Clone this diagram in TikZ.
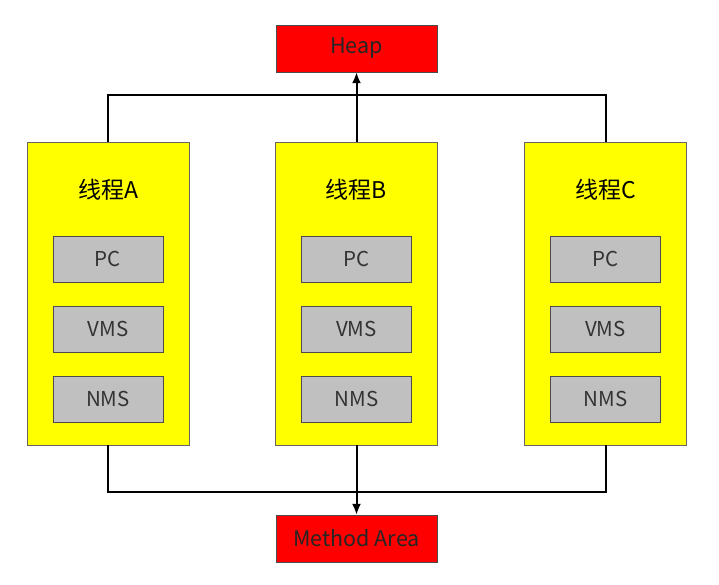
\documentclass[tikz,border=0pt]{standalone}
\usepackage{fontspec}
\setmainfont{Noto Sans CJK SC}
\usetikzlibrary{positioning,arrows.meta}
\definecolor{heapred}{RGB}{255,0,0}
\definecolor{threadyellow}{RGB}{255,255,0}
\definecolor{reggray}{RGB}{192,192,192}
\begin{document}
\begin{tikzpicture}[x=1pt,y=-1pt,
	membox/.style={draw=black!70,fill=heapred,minimum width=161pt,minimum height=47pt,text=black!85,font=\fontsize{21.5}{24}\selectfont},
	threadbox/.style={draw=black!60,fill=threadyellow,minimum width=162pt,minimum height=303pt},
	regbox/.style={draw=black!70,fill=reggray,minimum width=110pt,minimum height=46pt,text=black!80,font=\fontsize{20.5}{23}\selectfont},
	link/.style={line width=2pt}]

	\useasboundingbox (0,0) rectangle (719,585);

	% memory areas
	\node [membox] (heap) at (356.5,48.5) {Heap};
	\node [membox] (method) at (356.5,538.5) {Method Area};

	% threads
	\foreach \t/\x in {A/108,B/356.5,C/605.5} {
		\node [threadbox] (th\t) at (\x,293.5) {};
		\node [font=\fontsize{23}{26}\selectfont,inner sep=0] (title\t) at (\x,190) {线程\t};
		\node [regbox] (pc\t) at (\x,259) {PC};
		\node [regbox] (vms\t) at (\x,329) {VMS};
		\node [regbox] (nms\t) at (\x,399) {NMS};
	}

	% connectors
	\draw [link] (thA.north) -- ++(0,-47) -| (thC.north);
	\draw [link,-{Latex[length=11pt,width=9pt]}] (thB.north) -- (heap.south);
	\draw [link] (thA.south) -- ++(0,47) -| (thC.south);
	\draw [link,-{Latex[length=11pt,width=9pt]}] (thB.south) -- (method.north);

\end{tikzpicture}
\end{document}
